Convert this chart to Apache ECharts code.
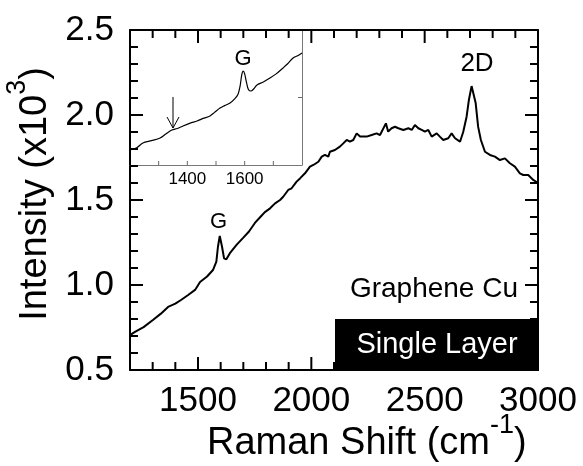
<!DOCTYPE html>
<html>
<head>
<meta charset="utf-8">
<script src="https://cdn.jsdelivr.net/npm/echarts@6/dist/echarts.min.js"></script>
<style>
  html, body { margin: 0; background: #fff; }
  #main { width: 583px; height: 466px; }
</style>
</head>
<body>
<div id="main"></div>
<script>
// Raman spectrum (x in cm^-1, intensity in x10^3)
const shift = [1200, 1222, 1260, 1301, 1335, 1368, 1400, 1425, 1455, 1487, 1509, 1540, 1566, 1581, 1588, 1596,
  1606, 1615, 1625, 1640, 1670, 1698, 1725, 1751, 1775, 1795, 1818, 1840, 1862, 1876, 1898, 1913, 1935, 1950,
  1972, 1994, 2009, 2031, 2046, 2060, 2075, 2082, 2104, 2126, 2141, 2156, 2170, 2185, 2200, 2215, 2229, 2244,
  2266, 2288, 2303, 2329, 2339, 2354, 2369, 2384, 2406, 2428, 2443, 2457, 2472, 2487, 2501, 2516, 2531, 2553,
  2567, 2582, 2604, 2619, 2634, 2656, 2670, 2685, 2695, 2707, 2714, 2725, 2736, 2748, 2766, 2788, 2810, 2832,
  2854, 2876, 2898, 2920, 2935, 2957, 2979, 3000];
const intensity = [0.705, 0.724, 0.752, 0.794, 0.83, 0.871, 0.89, 0.912, 0.94, 0.971, 1.018, 1.05, 1.088, 1.137,
  1.225, 1.288, 1.225, 1.157, 1.151, 1.186, 1.236, 1.276, 1.315, 1.365, 1.4, 1.429, 1.451, 1.48, 1.5, 1.519,
  1.559, 1.569, 1.608, 1.627, 1.657, 1.696, 1.706, 1.725, 1.755, 1.765, 1.755, 1.784, 1.794, 1.814, 1.833, 1.853,
  1.843, 1.853, 1.892, 1.873, 1.873, 1.873, 1.882, 1.892, 1.882, 1.951, 1.902, 1.922, 1.931, 1.922, 1.912, 1.922,
  1.912, 1.941, 1.922, 1.912, 1.902, 1.912, 1.873, 1.892, 1.873, 1.853, 1.863, 1.892, 1.863, 1.843, 1.9, 1.99,
  2.088, 2.17, 2.167, 2.07, 1.93, 1.853, 1.784, 1.765, 1.755, 1.735, 1.745, 1.716, 1.696, 1.657, 1.647, 1.647,
  1.618, 1.6];

// inset: zoom on the G band region
const insetShift = [1200, 1225, 1245, 1275, 1305, 1325, 1346, 1365, 1385, 1410, 1434, 1455, 1479, 1495, 1514,
  1530, 1549, 1565, 1576, 1584, 1590, 1595, 1600, 1606, 1613, 1622, 1632, 1643, 1665, 1688, 1710, 1734, 1750,
  1769, 1785, 1800];
const insetIntensity = [0.711, 0.73, 0.763, 0.78, 0.8, 0.83, 0.859, 0.87, 0.889, 0.91, 0.926, 0.945, 0.963, 0.99,
  1.022, 1.04, 1.059, 1.09, 1.12, 1.185, 1.27, 1.296, 1.275, 1.215, 1.16, 1.148, 1.165, 1.193, 1.215, 1.244,
  1.275, 1.319, 1.35, 1.393, 1.41, 1.43];

// tick positions
const xLabels = [1500, 2000, 2500, 3000];
const xMinor = [1300, 1400, 1600, 1700, 1800, 1900, 2100, 2200, 2300, 2400, 2600, 2700, 2800, 2900];
const yLabels = [0.5, 1.0, 1.5, 2.0, 2.5];
const yMinor = [0.6, 0.7, 0.8, 0.9, 1.1, 1.2, 1.3, 1.4, 1.6, 1.7, 1.8, 1.9, 2.1, 2.2, 2.3, 2.4];
const insetXLabels = [1400, 1600];
const insetXTicks = [1300, 1400, 1500, 1600, 1700];
const insetYTicks = [1.1];

const FONT = "'Liberation Sans', Arial, Helvetica, sans-serif";
const chart = echarts.init(document.getElementById('main'));

function axis(grid, pos, min, max, extra) {
  return Object.assign({
    type: 'value', gridIndex: grid, position: pos, min: min, max: max,
    splitLine: { show: false }, axisLabel: { show: false }, axisTick: { show: false },
    axisLine: { show: true, onZero: false, lineStyle: { color: '#000', width: 2 } }
  }, extra);
}
const grey = { show: true, onZero: false, lineStyle: { color: '#777', width: 1 } };

chart.setOption({
  animation: false,
  grid: [
    { left: 130, top: 30, width: 408, height: 340 },
    { left: 130, top: 30, width: 172, height: 135 }
  ],
  xAxis: [
    axis(0, 'bottom', 1200, 3000, {
      axisLabel: { show: true, customValues: xLabels, formatter: v => String(v), margin: 14,
        color: '#000', fontSize: 35, fontFamily: FONT }
    }),
    axis(0, 'top', 1200, 3000),
    axis(1, 'bottom', 1200, 1800, {
      axisLine: grey,
      axisLabel: { show: true, customValues: insetXLabels, formatter: v => String(v), margin: 6,
        color: '#000', fontSize: 17, fontFamily: FONT }
    })
  ],
  yAxis: [
    axis(0, 'left', 0.5, 2.5, {
      axisLabel: { show: true, customValues: yLabels, formatter: v => v.toFixed(1), margin: 16,
        color: '#000', fontSize: 35, fontFamily: FONT }
    }),
    axis(0, 'right', 0.5, 2.5),
    axis(1, 'right', 0.6, 1.6, { axisLine: grey })
  ],
  series: [
    {
      type: 'line', xAxisIndex: 0, yAxisIndex: 0, showSymbol: false,
      lineStyle: { color: '#000', width: 2 },
      data: shift.map((x, i) => [x, intensity[i]]), z: 3
    },
    {
      type: 'line', xAxisIndex: 2, yAxisIndex: 2, showSymbol: false, smooth: 0.3,
      lineStyle: { color: '#000', width: 1.2 },
      data: insetShift.map((x, i) => [x, insetIntensity[i]]), z: 3
    }
  ]
});

// everything below is placed through the axes (convertToPixel)
const pMain = v => chart.convertToPixel({ seriesIndex: 0 }, v);
const pIn = v => chart.convertToPixel({ seriesIndex: 1 }, v);

// inward ticks on the frame, drawn as polylines
const ticks = [];
function addTicks(toPx, dim, values, ends, len, width, color) {
  values.forEach(v => {
    ends.forEach(([e, dir]) => {
      const p = toPx(dim === 'x' ? [v, e] : [e, v]);
      const q = dim === 'x' ? [p[0], p[1] + dir * len] : [p[0] + dir * len, p[1]];
      ticks.push({
        type: 'polyline', z: 40,
        shape: { points: [[p[0], p[1]], q] },
        style: { stroke: color, lineWidth: width, fill: null }
      });
    });
  });
}
const xEnds = [[0.5, -1], [2.5, 1]];
const yEnds = [[1200, 1], [3000, -1]];
addTicks(pMain, 'x', xMinor, xEnds, 8, 2, '#000');
addTicks(pMain, 'x', xLabels, xEnds, 13, 2, '#000');
addTicks(pMain, 'y', yMinor, yEnds, 8, 2, '#000');
addTicks(pMain, 'y', yLabels, yEnds, 13, 2, '#000');
addTicks(pIn, 'x', insetXTicks, [[0.6, -1]], 4, 1, '#666');
addTicks(pIn, 'y', insetYTicks, [[1800, -1]], 4, 1, '#666');

const gMain = pMain([1591, 1.37]);
const g2D = pMain([2731, 2.3]);
const gIn = pIn([1594, 1.385]);
const arrTip = pIn([1350, 0.874]);
const arrTop = pIn([1350, 1.104]);

const txt = (x, y, text, size, color, align, z) => ({
  type: 'text', x: x, y: y, z: z || 50,
  style: { text: text, font: size + 'px ' + FONT, fill: color || '#000', textAlign: align || 'center',
    textVerticalAlign: 'middle' }
});

const rich = {
  a: { fontSize: 38, fontFamily: FONT, lineHeight: 64, fill: '#000' },
  s: { fontSize: 27, fontFamily: FONT, lineHeight: 30, verticalAlign: 'top', fill: '#000' }
};

chart.setOption({
  graphic: ticks.concat([
    txt(gMain[0], gMain[1], 'G', 22),
    txt(g2D[0], g2D[1], '2D', 26),
    txt(gIn[0], gIn[1], 'G', 22),
    {
      type: 'polyline', z: 50,
      shape: { points: [[arrTop[0], arrTop[1]], [arrTip[0], arrTip[1]]] },
      style: { stroke: '#000', lineWidth: 1, fill: null }
    },
    {
      type: 'polyline', z: 50,
      shape: { points: [[arrTip[0] - 6, arrTip[1] - 11], [arrTip[0], arrTip[1]], [arrTip[0] + 6, arrTip[1] - 11]] },
      style: { stroke: '#000', lineWidth: 1, fill: null }
    },
    txt(518, 289, 'Graphene Cu', 28, '#000', 'right'),
    { type: 'rect', z: 60, shape: { x: 335, y: 319, width: 204, height: 52 }, style: { fill: '#000' } },
    txt(437, 345, 'Single Layer', 29, '#fff', 'center', 61),
    {
      type: 'text', x: 207, y: 412, z: 50,
      style: { text: '{a|Raman Shift (cm}{s|-1}{a|)}', rich: rich, textAlign: 'left', textVerticalAlign: 'top' }
    },
    {
      type: 'text', x: 36, y: 194, z: 50, rotation: Math.PI / 2,
      style: { text: '{a|Intensity (x10}{s|3}{a|)}', rich: rich, textAlign: 'center', textVerticalAlign: 'middle' }
    }
  ])
});
</script>
</body>
</html>
